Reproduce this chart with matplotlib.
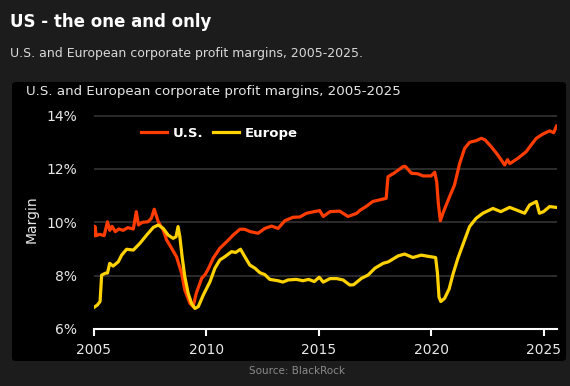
import matplotlib
matplotlib.use("Agg")
import matplotlib.pyplot as plt
from matplotlib.patches import FancyBboxPatch
import numpy as np

# data (decimal years, margin in %)
us_years = [2005.00, 2005.04, 2005.10, 2005.25, 2005.45, 2005.60, 2005.70, 2005.80, 2005.95,
            2006.10, 2006.30, 2006.50, 2006.75, 2006.88, 2006.98, 2007.15, 2007.40, 2007.55,
            2007.68, 2007.86, 2008.08, 2008.23, 2008.45, 2008.67, 2008.90, 2009.04, 2009.27,
            2009.41, 2009.55, 2009.79, 2009.95, 2010.10, 2010.30, 2010.60, 2010.90, 2011.19,
            2011.49, 2011.70, 2011.95, 2012.30, 2012.60, 2012.90, 2013.19, 2013.49, 2013.86,
            2014.16, 2014.45, 2014.80, 2015.04, 2015.20, 2015.50, 2015.93, 2016.30, 2016.67,
            2016.85, 2017.10, 2017.40, 2017.70, 2018.00, 2018.08, 2018.38, 2018.75, 2018.85,
            2019.12, 2019.40, 2019.64, 2020.00, 2020.16, 2020.25, 2020.32, 2020.41, 2020.55,
            2020.82, 2021.04, 2021.27, 2021.49, 2021.71, 2022.00, 2022.23, 2022.40, 2022.67,
            2022.97, 2023.27, 2023.40, 2023.50, 2023.86, 2024.23, 2024.45, 2024.68, 2024.97,
            2025.27, 2025.45, 2025.58]
us_margin = [9.50, 9.85, 9.50, 9.55, 9.50, 10.02, 9.70, 9.85, 9.65,
             9.75, 9.70, 9.80, 9.75, 10.40, 9.90, 10.00, 10.02, 10.15,
             10.49, 10.02, 9.71, 9.34, 9.03, 8.71, 8.09, 7.46, 6.96,
             6.84, 7.34, 7.90, 8.05, 8.28, 8.65, 9.03, 9.27, 9.52,
             9.74, 9.74, 9.65, 9.59, 9.77, 9.86, 9.77, 10.06, 10.19,
             10.20, 10.34, 10.40, 10.44, 10.22, 10.40, 10.42, 10.22, 10.33,
             10.46, 10.59, 10.78, 10.84, 10.90, 11.71, 11.86, 12.09, 12.10,
             11.84, 11.82, 11.74, 11.74, 11.88, 11.50, 10.71, 10.06, 10.40,
             10.96, 11.40, 12.21, 12.77, 13.00, 13.06, 13.15, 13.09, 12.84,
             12.52, 12.15, 12.35, 12.20, 12.40, 12.65, 12.90, 13.15, 13.31,
             13.43, 13.36, 13.61]

eu_years = [2005.00, 2005.15, 2005.27, 2005.34, 2005.50, 2005.60, 2005.70, 2005.85, 2006.08,
            2006.23, 2006.45, 2006.75, 2007.04, 2007.34, 2007.64, 2007.86, 2008.08, 2008.30,
            2008.52, 2008.65, 2008.74, 2008.82, 2008.92, 2009.04, 2009.19, 2009.34, 2009.49,
            2009.64, 2009.86, 2010.16, 2010.38, 2010.60, 2010.82, 2011.12, 2011.30, 2011.52,
            2011.71, 2011.93, 2012.16, 2012.38, 2012.60, 2012.82, 2013.19, 2013.40, 2013.64,
            2014.00, 2014.30, 2014.55, 2014.80, 2015.02, 2015.20, 2015.50, 2015.80, 2016.08,
            2016.38, 2016.55, 2016.90, 2017.19, 2017.50, 2017.86, 2018.10, 2018.53, 2018.82,
            2019.19, 2019.56, 2019.90, 2020.20, 2020.28, 2020.35, 2020.43, 2020.60, 2020.80,
            2020.97, 2021.19, 2021.49, 2021.71, 2022.00, 2022.30, 2022.75, 2023.10, 2023.49,
            2023.80, 2024.16, 2024.38, 2024.68, 2024.82, 2025.00, 2025.27, 2025.56]
eu_margin = [6.81, 6.90, 7.03, 8.02, 8.09, 8.10, 8.46, 8.36, 8.52,
             8.77, 8.99, 8.96, 9.21, 9.52, 9.81, 9.90, 9.77, 9.52,
             9.40, 9.46, 9.84, 9.46, 8.71, 7.96, 7.34, 6.96, 6.77,
             6.84, 7.27, 7.77, 8.28, 8.59, 8.71, 8.90, 8.87, 8.99,
             8.71, 8.40, 8.28, 8.11, 8.04, 7.86, 7.81, 7.76, 7.84,
             7.86, 7.81, 7.86, 7.78, 7.94, 7.76, 7.89, 7.89, 7.84,
             7.65, 7.66, 7.90, 8.02, 8.28, 8.46, 8.52, 8.74, 8.81,
             8.68, 8.77, 8.72, 8.68, 8.10, 7.20, 7.03, 7.15, 7.50,
             8.05, 8.65, 9.34, 9.84, 10.15, 10.34, 10.52, 10.40, 10.56,
             10.46, 10.34, 10.65, 10.78, 10.34, 10.40, 10.59, 10.56]

x_ticks = [2005, 2010, 2015, 2020, 2025]
y_ticks = [6, 8, 10, 12, 14]

US_COLOR = "#ff3d00"
EU_COLOR = "#ffd200"
W, H = 570, 386

fig = plt.figure(figsize=(W / 100, H / 100), dpi=100)
fig.patch.set_facecolor("#1c1c1c")

# black chart panel, kept behind the axes
panel = FancyBboxPatch((12 / W, 1 - 361 / H), (566 - 12) / W, (361 - 82) / H,
                       boxstyle="round,pad=0,rounding_size=0.008",
                       transform=fig.transFigure, facecolor="black", edgecolor="none",
                       zorder=-5)
fig.patches.append(panel)

# header texts
fig.text(10 / W, 1 - 22 / H, "US - the one and only", color="white",
         fontsize=12, fontweight="bold", va="center", ha="left")
fig.text(10 / W, 1 - 53 / H, "U.S. and European corporate profit margins, 2005-2025.",
         color="#d8d8d8", fontsize=9, va="center", ha="left")
fig.text(26 / W, 1 - 92 / H, "U.S. and European corporate profit margins, 2005-2025",
         color="#e6e6e6", fontsize=9.6, va="center", ha="left")
fig.text(345 / W, 1 - 371 / H, "Source: BlackRock", color="#8a8a8a",
         fontsize=7.5, va="center", ha="right")

# axes
ax = fig.add_axes([94 / W, 1 - 329 / H, (557 - 94) / W, (329 - 110.3) / H])
ax.set_zorder(2)
ax.set_facecolor("none")
ax.plot(us_years, us_margin, color=US_COLOR, linewidth=2.3, label="U.S.",
        solid_joinstyle="round")
ax.plot(eu_years, eu_margin, color=EU_COLOR, linewidth=2.3, label="Europe",
        solid_joinstyle="round")

ax.set_xlim(2005, 2025.6)
ax.set_ylim(6, 14.2)
ax.set_xticks(x_ticks)
ax.set_yticks(y_ticks)
ax.set_yticklabels([f"{v}%" for v in y_ticks])

for s in ["top", "right", "left"]:
    ax.spines[s].set_visible(False)
ax.spines["bottom"].set_color("white")
ax.spines["bottom"].set_linewidth(1.5)

ax.tick_params(axis="x", colors="white", direction="out", length=5, width=1.5,
               labelsize=10, labelcolor="#e8e8e8", pad=5)
ax.tick_params(axis="y", length=0, labelsize=10, labelcolor="#e8e8e8", pad=12)

# grid lines (not at 6%, the axis line sits there)
for v in y_ticks[1:]:
    ax.axhline(v, color="#333333", linewidth=1.2, zorder=0)

ax.set_ylabel("Margin", color="#e8e8e8", fontsize=10, labelpad=6)

leg = ax.legend(loc="center left", bbox_to_anchor=(0.075, 0.896), ncol=2, frameon=False,
                handlelength=2.0, handletextpad=0.4, columnspacing=0.75,
                prop={"weight": "bold", "size": 9.5})
for t in leg.get_texts():
    t.set_color("white")

fig.savefig("out.png", dpi=100, facecolor=fig.get_facecolor())
